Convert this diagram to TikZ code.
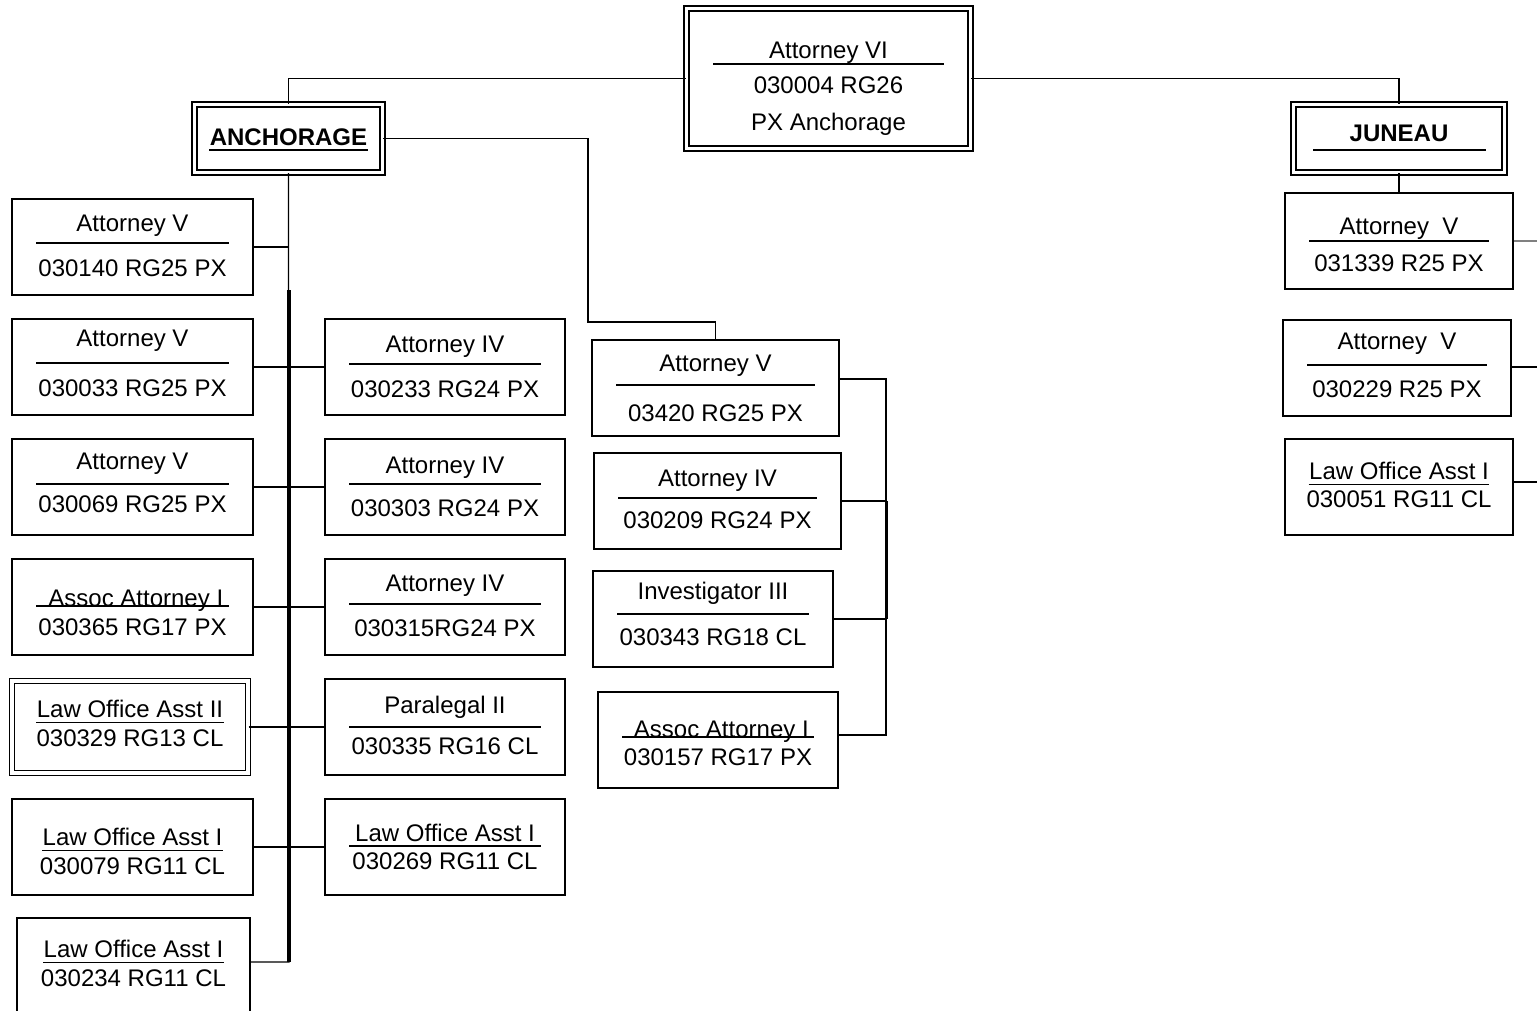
\documentclass[tikz,border=0pt]{standalone}
\usepackage{fontspec}
\setmainfont{Liberation Sans}
\usetikzlibrary{calc}

% box with a rule under the title: name, cx, cy, width, title, title y, rule y, code, code y
\newcommand{\ruledpos}[9]{%
  \node[posbox, minimum width=#4] (#1) at (#2,#3) {};
  \node[txt] (#1t) at (#2,#6) {#5};
  \draw[rule] (#2-#4/2+24,#7) -- (#2+#4/2-24,#7);
  \node[txt] (#1c) at (#2,#9) {#8};
}
% box with an underlined title: name, cx, cy, width, title, title y, code, code y, extra style
\newcommand{\ulpos}[9]{%
  \node[posbox, #9, minimum width=#4] (#1) at (#2,#3) {};
  \node[txt] (#1t) at (#2,#6) {#5};
  \draw[rule] ($(#1t.south west)+(0,4)$) -- ($(#1t.south east)+(0,4)$);
  \node[txt] (#1c) at (#2,#8) {#7};
}

\begin{document}
\begin{tikzpicture}[x=1pt, y=-1pt, line width=1.3]
\tikzstyle{every node} = [font = \fontsize{24}{28}\selectfont]
\tikzstyle{posbox} = [draw, line width=1.6, minimum height=96, inner sep=0]
\tikzstyle{dbl} = [double, double distance=3.5, line width=1.4]
\tikzstyle{txt} = [inner sep=0, text height=17.2, text depth=0]
\tikzstyle{rule} = [line width=1.4]
\useasboundingbox (0,0) rectangle (1537,1011);

% top
\node[posbox, dbl, minimum width=284, minimum height=140] (vi) at (828.5,78.5) {};
\node[txt] (vit) at (828.5,50) {Attorney VI};
\draw[rule] (713,64) -- (944,64);
\node[txt] (vic) at (828.5,85) {030004 RG26};
\node[txt] (vip) at (828.5,122) {PX Anchorage};

% offices
\node[posbox, dbl, minimum width=188, minimum height=68] (anc) at (288.5,138.5) {};
\node[txt] (anct) at (288.5,137) {\textbf{ANCHORAGE}};
\draw[line width=2] ($(anct.south west)+(0,4)$) -- ($(anct.south east)+(0,4)$);
\node[posbox, dbl, minimum width=211, minimum height=68] (jun) at (1399,138.5) {};
\node[txt] (junt) at (1399,133) {\textbf{JUNEAU}};
\draw[rule] (1313,150) -- (1486,150);

% left column
\ruledpos{l1}{132.5}{247}{241}{Attorney V}{223}{243}{030140 RG25 PX}{268}
\ruledpos{l2}{132.5}{367}{241}{Attorney V}{338}{363}{030033 RG25 PX}{388}
\ruledpos{l3}{132.5}{487}{241}{Attorney V}{461}{484}{030069 RG25 PX}{504}
\ruledpos{l4}{132.5}{607}{241}{\ Assoc Attorney I}{598}{606}{030365 RG17 PX}{627}
\ulpos{l5}{130}{727}{236}{Law Office Asst II}{709}{030329 RG13 CL}{738}{dbl, minimum height=92}
\ulpos{l6}{132.5}{847}{241}{Law Office Asst I}{837}{030079 RG11 CL}{866}{}
\ulpos{l7}{133.5}{966}{233}{Law Office Asst I}{949}{030234 RG11 CL}{978}{}

% middle column
\ruledpos{m1}{445}{367}{240}{Attorney IV}{344}{364}{030233 RG24 PX}{389}
\ruledpos{m2}{445}{487}{240}{Attorney IV}{465}{484}{030303 RG24 PX}{508}
\ruledpos{m3}{445}{607}{240}{Attorney IV}{583}{604}{030315RG24 PX}{628}
\ruledpos{m4}{445}{727}{240}{Paralegal II}{705}{727}{030335 RG16 CL}{746}
\ruledpos{m5}{445}{847}{240}{Law Office Asst I\ }{833}{846}{030269 RG11 CL}{861}

% third column
\ruledpos{r1}{715.5}{388}{247}{Attorney V}{363}{385}{03420 RG25 PX}{413}
\ruledpos{r2}{717.5}{501}{247}{Attorney IV}{478}{498}{030209 RG24 PX}{520}
\ruledpos{r3}{713}{619}{240}{Investigator III}{591}{614}{030343 RG18 CL}{637}
\ruledpos{r4}{718}{740}{240}{\ Assoc Attorney I}{729}{737}{030157 RG17 PX}{757}

% juneau column
\ruledpos{j1}{1399}{241}{228}{Attorney\ \ V}{226}{241}{031339 R25 PX}{263}
\ruledpos{j2}{1397}{368}{228}{Attorney\ \ V}{341}{365}{030229 R25 PX}{389}
\ulpos{j3}{1399}{487}{228}{Law Office Asst I}{471}{030051 RG11 CL}{499}{}

% top to offices
\draw (vi.west) -| (anc.north);
\draw (vi.east) -| (jun.north);

% anchorage spine
\coordinate (st) at (289,290);
\coordinate (sb) at (289,962);
\draw (anc.south) -- (sb) -- (sb -| l7.east);
\draw[line width=3.5] (st) -- (sb);
\draw (l1.east) -- (l1.east -| sb);
\draw (l2.east) -- (m1.west);
\draw (l3.east) -- (m2.west);
\draw (l4.east) -- (m3.west);
\draw (l5.east) -- (m4.west);
\draw (l6.east) -- (m5.west);

% anchorage to third column
\coordinate (k1) at (588,322);
\draw (anc.east) -| (k1) -| (r1.north);
\coordinate (rb1) at (886,379);
\coordinate (rb4) at (886,735);
\draw (rb1 -| r1.east) -- (rb1) -- (rb4) -- (rb4 -| r4.east);
\draw (r2.east) -- (r2.east -| rb1);
\draw (r3.east) -- (r3.east -| rb1);
\draw[line width=3] (r2.east -| rb1) -- (r3.east -| rb1);

% juneau
\draw (jun.south) -- (j1.north);
\coordinate (e1) at (1537,241);
\coordinate (e2) at (1537,367);
\coordinate (e3) at (1537,482);
\draw[gray] (j1.east) -- (e1);
\draw (e2 -| j2.east) -- (e2);
\draw (e3 -| j3.east) -- (e3);
\end{tikzpicture}
\end{document}
